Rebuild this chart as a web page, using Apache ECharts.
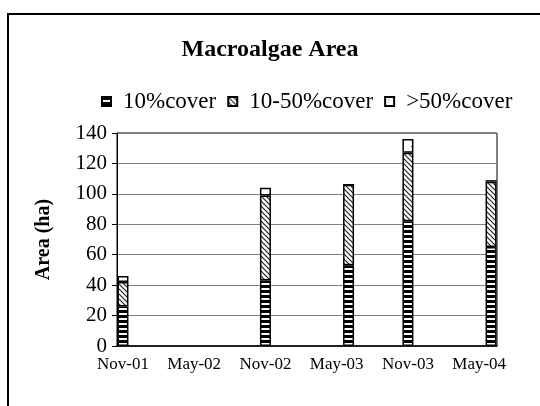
<!DOCTYPE html>
<html>
<head>
<meta charset="utf-8">
<script src="https://cdn.jsdelivr.net/npm/echarts@6/dist/echarts.min.js"></script>
<style>
    html, body { margin: 0; padding: 0; background: #fff; }
    #chart { width: 540px; height: 406px; }
</style>
</head>
<body>
<div id="chart"></div>
<script>
// monthly slots on the date axis, Nov-01 .. Jun-04
var months = ['Nov-01','Dec-01','Jan-02','Feb-02','Mar-02','Apr-02','May-02','Jun-02','Jul-02','Aug-02','Sep-02','Oct-02',
    'Nov-02','Dec-02','Jan-03','Feb-03','Mar-03','Apr-03','May-03','Jun-03','Jul-03','Aug-03','Sep-03','Oct-03',
    'Nov-03','Dec-03','Jan-04','Feb-04','Mar-04','Apr-04','May-04','Jun-04'];
// survey dates
var surveys = ['Nov-01', 'Nov-02', 'Jun-03', 'Nov-03', 'Jun-04'];
var cover10 = [26, 43, 53, 82, 65];
var cover10to50 = [16, 56, 53, 45, 43];
var cover50 = [4, 5, 0, 9, 1];

function toSlots (values) {
    var out = months.map(function () { return null; });
    surveys.forEach(function (m, i) {
        out[months.indexOf(m)] = values[i];
    });
    return out;
}

// fill patterns
function stripes () {
    var c = document.createElement('canvas');
    c.width = 6; c.height = 5;
    var ctx = c.getContext('2d');
    ctx.fillStyle = '#000';
    ctx.fillRect(0, 0, 6, 5);
    ctx.fillStyle = '#fff';
    ctx.fillRect(0, 3, 6, 2);
    return c;
}
function hatch () {
    var c = document.createElement('canvas');
    c.width = 5; c.height = 5;
    var ctx = c.getContext('2d');
    ctx.fillStyle = '#fff';
    ctx.fillRect(0, 0, 5, 5);
    ctx.strokeStyle = '#222';
    ctx.lineWidth = 1.2;
    ctx.beginPath();
    ctx.moveTo(-1, -1); ctx.lineTo(6, 6);
    ctx.moveTo(-1, 4); ctx.lineTo(1, 6);
    ctx.moveTo(4, -1); ctx.lineTo(6, 1);
    ctx.stroke();
    return c;
}
function dots () {
    var c = document.createElement('canvas');
    c.width = 8; c.height = 8;
    var ctx = c.getContext('2d');
    ctx.fillStyle = '#fff';
    ctx.fillRect(0, 0, 8, 8);
    ctx.fillStyle = '#666';
    ctx.fillRect(3, 2, 1, 1);
    return c;
}

var font = 'Liberation Serif, Times New Roman, serif';
var chart = echarts.init(document.getElementById('chart'));

function bar (name, values, pattern) {
    return {
        name: name,
        type: 'bar',
        stack: 'area',
        barWidth: 11,
        data: toSlots(values),
        itemStyle: {
            color: { image: pattern, repeat: 'repeat' },
            borderColor: '#000',
            borderWidth: 1.5
        }
    };
}

option = {
    animation: false,
    title: {
        text: 'Macroalgae Area',
        left: 'center',
        top: 33,
        textStyle: { fontFamily: font, fontSize: 24, fontWeight: 'bold', color: '#000' }
    },
    legend: {
        left: 96,
        top: 85,
        itemWidth: 9,
        itemHeight: 9,
        itemGap: 11,
        icon: 'rect',
        textStyle: { fontFamily: font, fontSize: 23, color: '#000', padding: [0, 0, 0, 7] },
        data: ['10%cover', '10-50%cover', '>50%cover']
    },
    grid: {
        left: 117,
        right: 43,
        top: 133,
        bottom: 60,
        show: true,
        borderColor: '#000',
        borderWidth: 1
    },
    xAxis: {
        type: 'category',
        data: months,
        boundaryGap: true,
        axisLine: { lineStyle: { color: '#000', width: 1.5 } },
        axisTick: { interval: 5, length: 5, lineStyle: { color: '#000' } },
        axisLabel: { interval: 5, fontFamily: font, fontSize: 17, color: '#000', margin: 10 }
    },
    yAxis: {
        type: 'value',
        min: 0,
        max: 140,
        interval: 20,
        name: 'Area (ha)',
        nameLocation: 'middle',
        nameGap: 63,
        nameTextStyle: { fontFamily: font, fontSize: 20, fontWeight: 'bold', color: '#000' },
        axisLine: { show: true, lineStyle: { color: '#000' } },
        axisTick: { show: true, length: 5, lineStyle: { color: '#000' } },
        axisLabel: { fontFamily: font, fontSize: 21, color: '#000', margin: 10 },
        splitLine: { lineStyle: { color: '#808080' } }
    },
    graphic: [{
        type: 'rect',
        shape: { x: 8, y: 14, width: 600, height: 500 },
        style: { fill: null, stroke: '#000', lineWidth: 2 },
        silent: true
    }],
    series: [
        bar('10%cover', cover10, stripes()),
        bar('10-50%cover', cover10to50, hatch()),
        bar('>50%cover', cover50, dots())
    ]
};
chart.setOption(option);
</script>
</body>
</html>
